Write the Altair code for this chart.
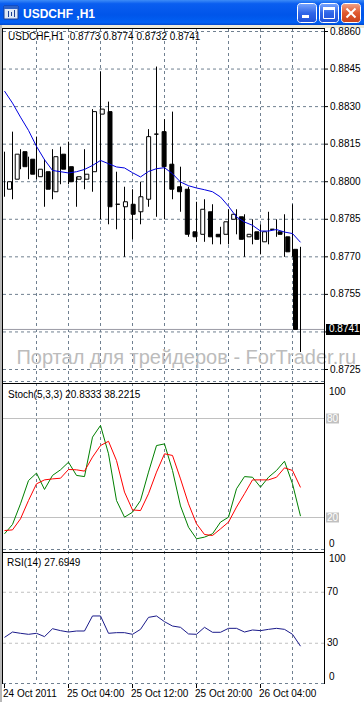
import altair as alt
import pandas as pd

# ---------------- data ----------------
opens = [0.8797, 0.8801, 0.8812, 0.8809, 0.8802, 0.8804, 0.8796, 0.8811, 0.8806, 0.8801,
         0.8801, 0.8804, 0.8827, 0.8828, 0.8791, 0.8790, 0.8791, 0.8788, 0.8793, 0.8819,
         0.8820, 0.8807, 0.8798, 0.8797, 0.8780, 0.8779, 0.8788, 0.8779, 0.8779, 0.8785,
         0.8786, 0.8778, 0.8780, 0.8776, 0.8781, 0.8780, 0.8778, 0.8773]
highs = [0.8812, 0.8820, 0.8813, 0.8810, 0.8818, 0.8809, 0.8813, 0.8814, 0.8816, 0.8802,
         0.8813, 0.8829, 0.8844, 0.8832, 0.8804, 0.8798, 0.8797, 0.8800, 0.8821, 0.8846,
         0.8825, 0.8828, 0.8806, 0.8798, 0.8792, 0.8793, 0.8791, 0.8782, 0.8789, 0.8789,
         0.8787, 0.8785, 0.8783, 0.8788, 0.8785, 0.8787, 0.8791, 0.8774]
lows = [0.8794, 0.8793, 0.8805, 0.8801, 0.8801, 0.8790, 0.8793, 0.8799, 0.8799, 0.8790,
        0.8797, 0.8796, 0.8785, 0.8783, 0.8781, 0.8770, 0.8777, 0.8783, 0.8790, 0.8786,
        0.8785, 0.8793, 0.8788, 0.8778, 0.8776, 0.8776, 0.8775, 0.8775, 0.8775, 0.8779,
        0.8770, 0.8775, 0.8771, 0.8775, 0.8778, 0.8770, 0.8770, 0.8732]
closes = [0.8800, 0.8811, 0.8806, 0.8803, 0.8805, 0.8797, 0.8810, 0.8805, 0.8800, 0.8802,
          0.8803, 0.8828, 0.8829, 0.8790, 0.8791, 0.8792, 0.8787, 0.8794, 0.8818, 0.8819,
          0.8806, 0.8797, 0.8796, 0.8779, 0.8778, 0.8789, 0.8778, 0.8778, 0.8784, 0.8787,
          0.8777, 0.8779, 0.8777, 0.8780, 0.8781, 0.8779, 0.8772, 0.8741]
ma_values = [0.88362, 0.88314, 0.88258, 0.88205, 0.88141, 0.88088, 0.88045, 0.88040, 0.88035, 0.88040,
             0.88049, 0.88065, 0.88085, 0.88072, 0.88059, 0.88055, 0.88036, 0.88019, 0.88041, 0.88052,
             0.88056, 0.88032, 0.87999, 0.87984, 0.87975, 0.87968, 0.87960, 0.87939, 0.87902, 0.87859,
             0.87839, 0.87826, 0.87803, 0.87803, 0.87809, 0.87799, 0.87793, 0.87758]
stoch_main = [10.1, 15.8, 28.3, 42.4, 46.9, 37.0, 45.5, 48.9, 53.5, 45.5,
              44.8, 68.7, 75.8, 58.6, 30.3, 20.2, 23.2, 30.3, 47.5, 63.6,
              64.6, 48.5, 27.0, 14.1, 7.1, 8.1, 10.1, 17.2, 20.2, 37.4,
              44.8, 44.4, 38.4, 44.4, 48.5, 54.1, 40.4, 20.8333]
stoch_signal = [12.1, 12.5, 19.2, 30.3, 40.4, 42.8, 43.4, 43.8, 49.1, 48.9,
                48.1, 56.6, 63.6, 66.2, 54.5, 35.4, 24.6, 24.2, 34.4, 47.5,
                58.6, 57.6, 43.4, 28.3, 16.2, 9.7, 9.1, 13.1, 17.2, 26.3,
                34.4, 42.8, 42.8, 42.8, 44.4, 50.1, 48.5, 38.2215]
rsi_values = [34.6, 38.8, 37.8, 37.0, 37.8, 35.2, 41.4, 39.9, 38.8, 39.6,
              39.6, 51.4, 51.4, 37.8, 38.3, 38.3, 37.0, 40.9, 50.3, 51.4,
              46.9, 43.5, 42.5, 37.3, 37.0, 42.5, 38.6, 38.6, 41.7, 41.7,
              38.8, 40.4, 39.9, 40.9, 41.7, 40.9, 37.0, 27.6949]

price_ticks = [0.8725, 0.8740, 0.8755, 0.8770, 0.8785, 0.8800, 0.8815, 0.8830, 0.8845, 0.8860]
grid_bars = [4, 8, 12, 16, 20, 24, 28, 32, 36]
date_bars = [0, 8, 16, 24, 32]
date_labels = ["24 Oct 2011", "25 Oct 04:00", "25 Oct 12:00", "25 Oct 20:00", "26 Oct 04:00"]
stoch_levels = [20, 80]
rsi_levels = [30, 70]
symbol = "USDCHF"
period = "H1"
watermark = "Портал для трейдеров - ForTrader.ru"

# ---------------- tables ----------------
n = len(opens)
bars = pd.DataFrame({"i": list(range(n)), "open": opens, "high": highs, "low": lows,
                     "close": closes, "ma": ma_values, "k": stoch_main, "d": stoch_signal,
                     "rsi": rsi_values})
last_price = closes[-1]
# the axis label under the current-price box is hidden in the reference
visible_ticks = [p for p in price_ticks if abs(p - last_price) > 0.0005]
ticks_df = pd.DataFrame({"p": price_ticks})
labels_df = pd.DataFrame({"p": visible_ticks, "lab": [f"{p:.4f}" for p in visible_ticks]})
grid_df = pd.DataFrame({"i": grid_bars})
dates_df = pd.DataFrame({"i": date_bars, "lab": date_labels})
sto_lv = pd.DataFrame({"v": stoch_levels, "lab": [str(v) for v in stoch_levels]})
rsi_lv = pd.DataFrame({"v": rsi_levels, "lab": [str(v) for v in rsi_levels]})
last = pd.DataFrame({"p": [last_price], "lab": [f"{last_price:.4f}"]})
edge = pd.DataFrame({"v": [0, 100], "lab": ["0", "100"]})
one = pd.DataFrame({"a": [0]})

FONT = "Liberation Sans"
GRID = "#708090"
LEVEL = "#c0c0c0"

xs = alt.Scale(domain=[0, n - 1], range=[4.5, 300.5], nice=False, zero=False)
ys_main = alt.Scale(domain=[0.8725, 0.8860], range=[369.5, 31.5], nice=False, zero=False)
ys_sto = alt.Scale(domain=[0, 100], range=[550.5, 385.5], nice=False, zero=False)
ys_rsi = alt.Scale(domain=[0, 100], range=[681.5, 554.0], nice=False, zero=False)


def X(f="i"):
    return alt.X(f"{f}:Q", scale=xs, axis=None)


def Y(f, s):
    return alt.Y(f"{f}:Q", scale=s, axis=None)


def hline(y, x1, x2, color, width=1, dash=None):
    kw = dict(color=color, strokeWidth=width)
    if dash:
        kw["strokeDash"] = dash
    return alt.Chart(one).mark_rule(**kw).encode(x=alt.value(x1), x2=alt.value(x2), y=alt.value(y))


def vline(x, y1, y2, color, width=1):
    return alt.Chart(one).mark_rule(color=color, strokeWidth=width).encode(
        x=alt.value(x), y=alt.value(y1), y2=alt.value(y2))


def box(x1, x2, y1, y2, **kw):
    return alt.Chart(one).mark_rect(**kw).encode(
        x=alt.value(x1), x2=alt.value(x2), y=alt.value(y1), y2=alt.value(y2))


def label(txt, x, y, size=10, color="black", **kw):
    return alt.Chart(one).mark_text(align="left", baseline="middle", font=FONT,
                                    fontSize=size, color=color, **kw).encode(
        x=alt.value(x), y=alt.value(y), text=alt.value(txt))


def rect_shape(w, h):
    r = h / w
    return f"M-1,{-r:.4f}L1,{-r:.4f}L1,{r:.4f}L-1,{r:.4f}Z", w * w


layers = []

# ---- title bar ----
layers.append(box(0, 364, 0, 25, fill=alt.Gradient(
    gradient="linear",
    stops=[alt.GradientStop(color="#3d8cf7", offset=0),
           alt.GradientStop(color="#0a5ef0", offset=0.15),
           alt.GradientStop(color="#0055ea", offset=0.6),
           alt.GradientStop(color="#0160f4", offset=0.9),
           alt.GradientStop(color="#0047cc", offset=1)],
    x1=0, x2=0, y1=0, y2=1)))
layers.append(box(0, 364, 25, 28, fill="#ece9d8"))
layers.append(box(0, 2, 25, 702, fill="#b8b8b8"))
# icon
layers.append(box(4, 18, 6, 19, fill="#dfe8f6", stroke="#1c3f94", strokeWidth=1))
layers.append(box(4, 18, 6, 9, fill="#2d62c8"))
layers.append(vline(8.5, 11, 17, "#1c3f94"))
layers.append(vline(11.5, 12, 16, "#1c3f94"))
layers.append(vline(14.5, 10, 17, "#1c3f94"))
layers.append(label(f"{symbol} ,{period}", 23, 13.5, size=12, color="white", fontWeight="bold"))
# buttons
btn_blue = alt.Gradient(gradient="linear",
                        stops=[alt.GradientStop(color="#7aa6ff", offset=0),
                               alt.GradientStop(color="#2f66e8", offset=0.5),
                               alt.GradientStop(color="#1f50d8", offset=1)],
                        x1=0, x2=0, y1=0, y2=1)
btn_red = alt.Gradient(gradient="linear",
                       stops=[alt.GradientStop(color="#f0a48a", offset=0),
                              alt.GradientStop(color="#e0582e", offset=0.5),
                              alt.GradientStop(color="#c8401a", offset=1)],
                       x1=0, x2=0, y1=0, y2=1)
layers.append(box(297.5, 316.5, 3.5, 22.5, fill=btn_blue, stroke="white", strokeWidth=1, cornerRadius=3))
layers.append(box(319.5, 338.5, 3.5, 22.5, fill=btn_blue, stroke="white", strokeWidth=1, cornerRadius=3))
layers.append(box(341.5, 360.5, 3.5, 22.5, fill=btn_red, stroke="white", strokeWidth=1, cornerRadius=3))
layers.append(box(302, 309, 15, 18, fill="white"))
layers.append(box(323.5, 334.5, 7.5, 18.5, fillOpacity=0, stroke="white", strokeWidth=1))
layers.append(box(323, 335, 7, 10, fill="white"))
layers.append(alt.Chart(one).mark_rule(color="white", strokeWidth=2).encode(
    x=alt.value(346.5), y=alt.value(8.5), x2=alt.value(355.5), y2=alt.value(17.5)))
layers.append(alt.Chart(one).mark_rule(color="white", strokeWidth=2).encode(
    x=alt.value(355.5), y=alt.value(8.5), x2=alt.value(346.5), y2=alt.value(17.5)))

# ---- grids ----
layers.append(alt.Chart(grid_df).mark_rule(color=GRID, strokeWidth=1, strokeDash=[3, 3]).encode(
    x=X(), y=alt.value(29), y2=alt.value(683)))
layers.append(alt.Chart(ticks_df).mark_rule(color=GRID, strokeWidth=1, strokeDash=[3, 3]).encode(
    y=Y("p", ys_main), x=alt.value(3), x2=alt.value(324)))
layers.append(hline(381.5, 3, 324, GRID, dash=[3, 3]))
layers.append(hline(549.5, 3, 324, GRID, dash=[3, 3]))
layers.append(hline(683.5, 3, 324, GRID, dash=[3, 3]))
layers.append(alt.Chart(sto_lv).mark_rule(color=LEVEL, strokeWidth=1).encode(
    y=Y("v", ys_sto), x=alt.value(3), x2=alt.value(324)))
layers.append(alt.Chart(rsi_lv).mark_rule(color=LEVEL, strokeWidth=1, strokeDash=[3, 3]).encode(
    y=Y("v", ys_rsi), x=alt.value(3), x2=alt.value(324)))

# ---- watermark & last price line ----
layers.append(alt.Chart(one).mark_text(align="right", baseline="alphabetic", font=FONT,
                                       fontSize=20, color="#bcbcbc").encode(
    x=alt.value(356), y=alt.value(364), text=alt.value(watermark)))
layers.append(alt.Chart(last).mark_rule(color="#9a9aa4", strokeWidth=1).encode(
    y=Y("p", ys_main), x=alt.value(3), x2=alt.value(324)))

# ---- candles ----
layers.append(alt.Chart(bars).mark_rule(color="black", strokeWidth=1).encode(
    x=X(), y=Y("low", ys_main), y2="high:Q"))
layers.append(alt.Chart(bars).mark_bar(size=4, stroke="black", strokeWidth=1).encode(
    x=X(), y=Y("open", ys_main), y2="close:Q",
    fill=alt.condition("datum.close > datum.open", alt.value("white"), alt.value("black"))))
layers.append(alt.Chart(bars).mark_line(color="#0000e0", strokeWidth=1).encode(
    x=X(), y=Y("ma", ys_main)))

# ---- indicators ----
layers.append(alt.Chart(bars).mark_line(color="#008000", strokeWidth=1).encode(
    x=X(), y=Y("k", ys_sto)))
layers.append(alt.Chart(bars).mark_line(color="#ff0000", strokeWidth=1).encode(
    x=X(), y=Y("d", ys_sto)))
layers.append(alt.Chart(bars).mark_line(color="#1a1a8a", strokeWidth=1).encode(
    x=X(), y=Y("rsi", ys_rsi)))

# ---- frames ----
layers.append(hline(28.5, 2, 325, "black"))
layers.append(hline(383.5, 2, 325, "black"))
layers.append(hline(552.5, 2, 325, "black"))
layers.append(vline(2.5, 28, 684, "black"))
layers.append(vline(324.5, 28, 684, "black"))

# ---- right axis labels ----
layers.append(alt.Chart(ticks_df).mark_rule(color="black").encode(
    y=Y("p", ys_main), x=alt.value(324), x2=alt.value(328)))
layers.append(alt.Chart(labels_df).mark_text(align="left", baseline="middle", font=FONT,
                                             fontSize=10, color="black").encode(
    y=Y("p", ys_main), x=alt.value(330), text="lab:N"))
shp, sz = rect_shape(34, 11)
layers.append(alt.Chart(last).mark_point(shape=shp, size=sz, filled=True, color="black",
                                         opacity=1, strokeWidth=0).encode(
    y=Y("p", ys_main), x=alt.value(343)))
layers.append(alt.Chart(last).mark_text(align="left", baseline="middle", font=FONT, fontSize=10,
                                        color="white").encode(
    y=Y("p", ys_main), x=alt.value(329), text="lab:N"))

# stoch labels
shp2, sz2 = rect_shape(13, 10)
layers.append(alt.Chart(sto_lv).mark_point(shape=shp2, size=sz2, filled=True, color=LEVEL,
                                           opacity=1, strokeWidth=0).encode(
    y=Y("v", ys_sto), x=alt.value(332.5)))
layers.append(alt.Chart(sto_lv).mark_text(align="left", baseline="middle", font=FONT,
                                          fontSize=10, color="white").encode(
    y=Y("v", ys_sto), x=alt.value(327), text="lab:N"))
layers.append(alt.Chart(edge[edge.v == 100]).mark_text(align="left", baseline="middle", font=FONT,
                                                       fontSize=10, dy=6).encode(
    y=Y("v", ys_sto), x=alt.value(329), text="lab:N"))
layers.append(alt.Chart(edge[edge.v == 0]).mark_text(align="left", baseline="middle", font=FONT,
                                                     fontSize=10, dy=-7).encode(
    y=Y("v", ys_sto), x=alt.value(329), text="lab:N"))
# rsi labels
layers.append(alt.Chart(rsi_lv).mark_text(align="left", baseline="middle", font=FONT,
                                          fontSize=10).encode(
    y=Y("v", ys_rsi), x=alt.value(327), text="lab:N"))
layers.append(alt.Chart(edge[edge.v == 100]).mark_text(align="left", baseline="middle", font=FONT,
                                                       fontSize=10, dy=5).encode(
    y=Y("v", ys_rsi), x=alt.value(329), text="lab:N"))
layers.append(alt.Chart(edge[edge.v == 0]).mark_text(align="left", baseline="middle", font=FONT,
                                                     fontSize=10, dy=-5).encode(
    y=Y("v", ys_rsi), x=alt.value(329), text="lab:N"))

# ---- date axis ----
layers.append(alt.Chart(dates_df).mark_rule(color="black").encode(
    x=X(), y=alt.value(684), y2=alt.value(688)))
layers.append(alt.Chart(dates_df).mark_text(align="left", baseline="middle", font=FONT,
                                            fontSize=10, dx=-1.5).encode(
    x=X(), y=alt.value(694), text="lab:N"))

# ---- indicator captions ----
NB = "\u00a0"
header = (f"{symbol},{period}{NB}{NB}{opens[-1]:.4f} {highs[-1]:.4f} "
          f"{lows[-1]:.4f} {closes[-1]:.4f}")
layers.append(label(header, 8, 37))
layers.append(label(f"Stoch(5,3,3) {stoch_main[-1]:.4f} {stoch_signal[-1]:.4f}", 8, 395))
layers.append(label(f"RSI(14) {rsi_values[-1]:.4f}", 7, 563))

chart = alt.layer(*layers).resolve_scale(x="independent", y="independent").properties(
    width=364, height=702, padding=0, background="white",
    autosize=alt.AutoSizeParams(type="none"),
).configure_view(stroke=None)

chart.save("out.html", embed_options={"renderer": "svg", "actions": False})
